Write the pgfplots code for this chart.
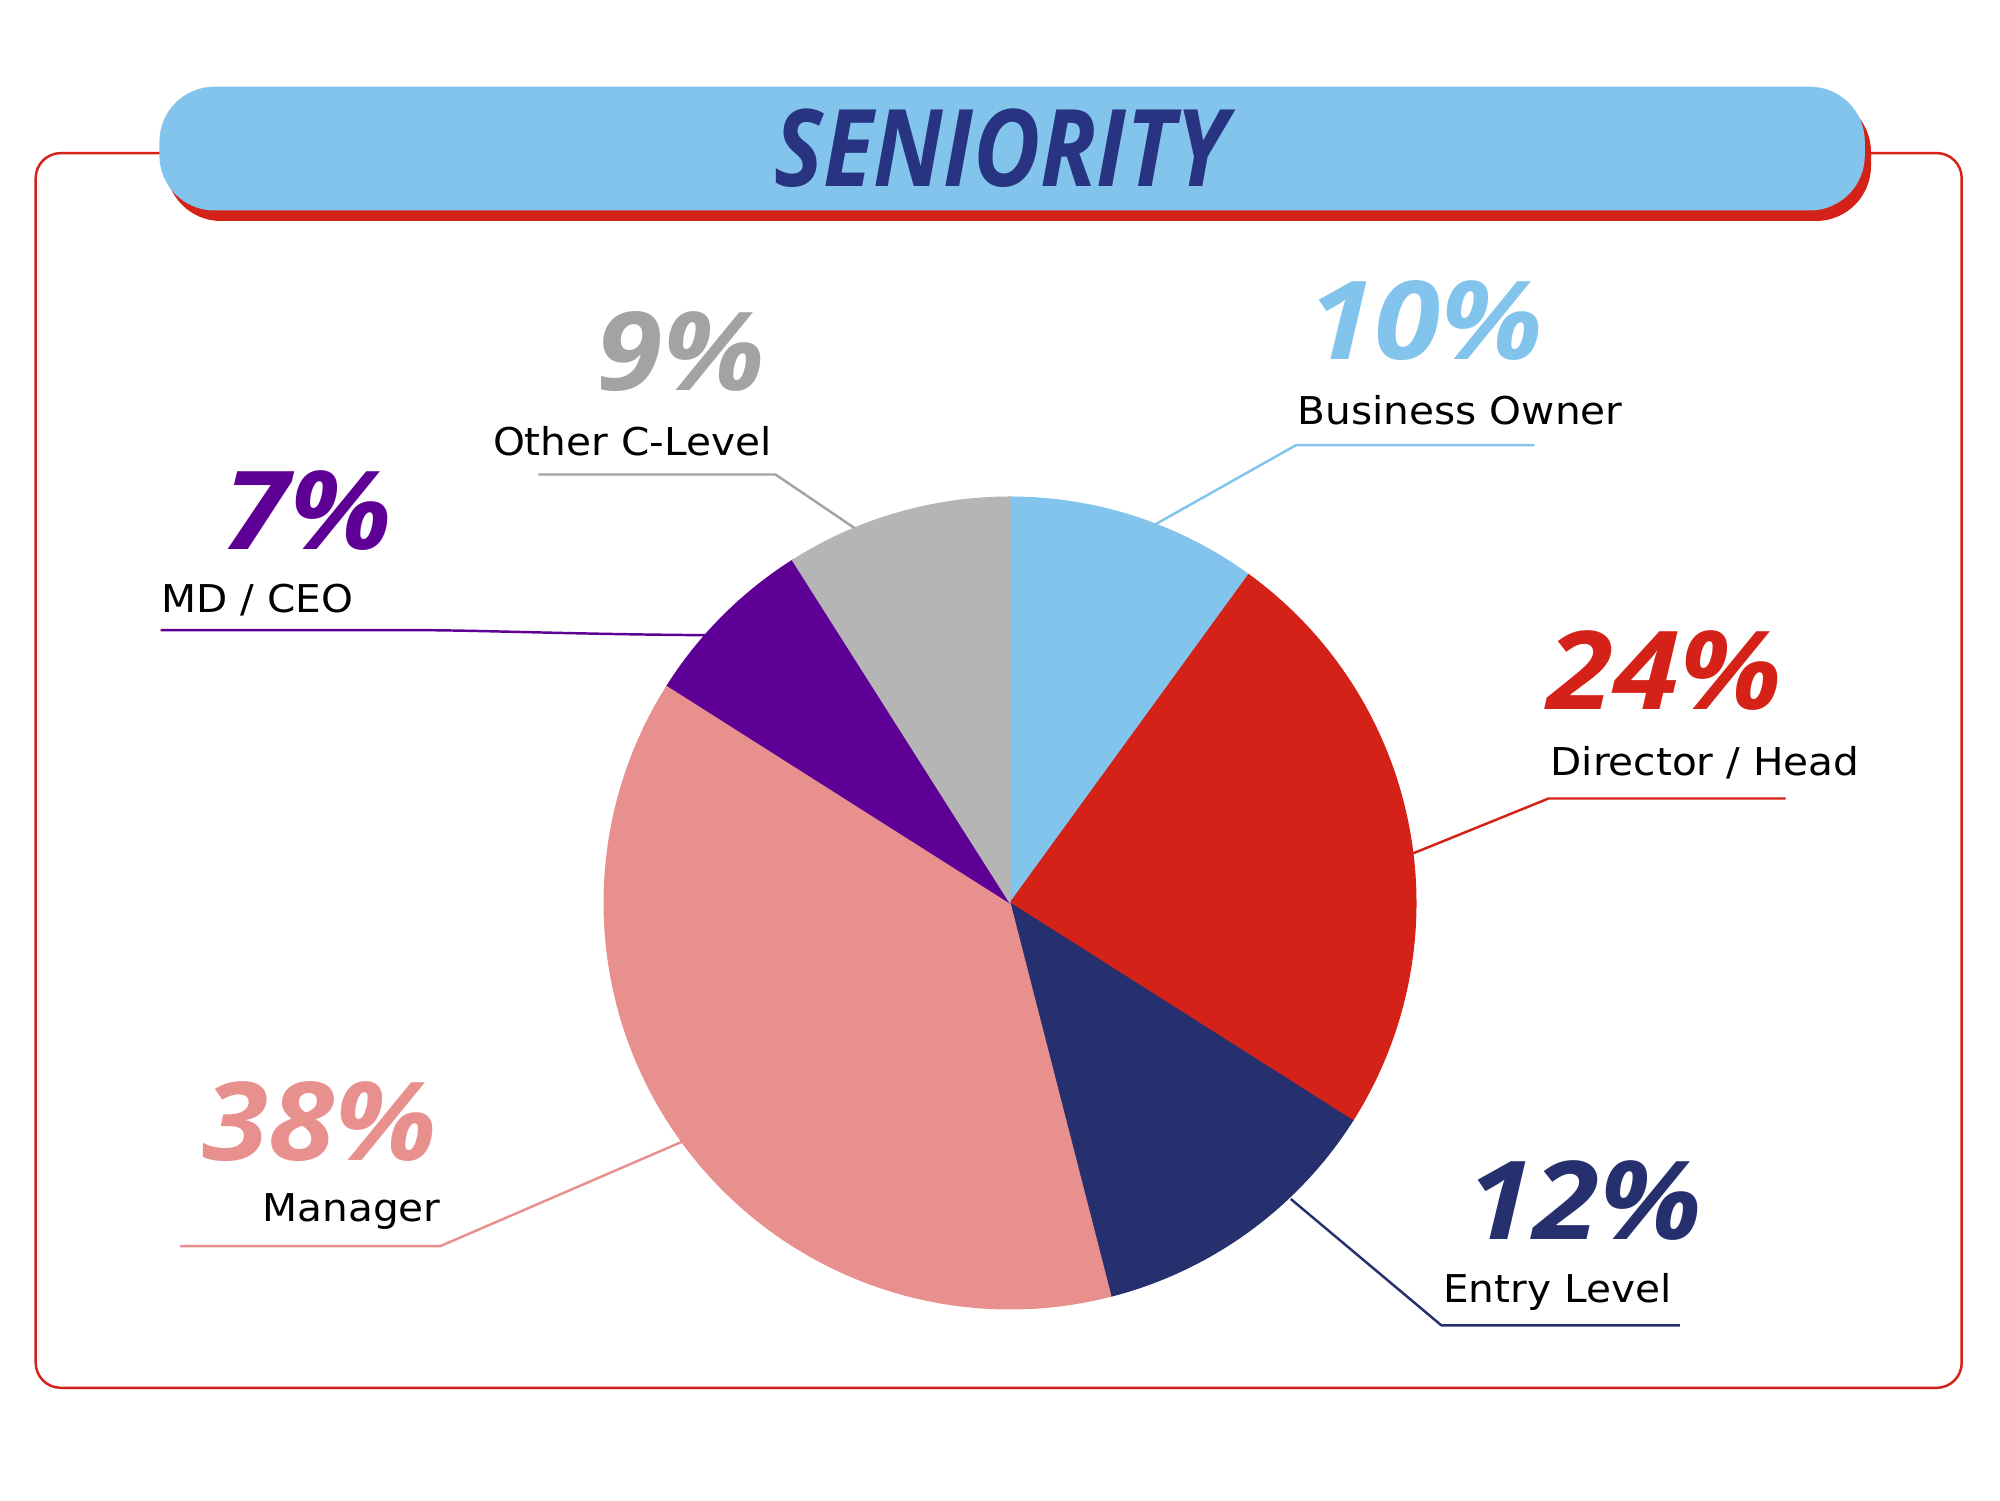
\documentclass[border=0pt]{standalone}
\usepackage{pgfplots}
\pgfplotsset{compat=1.18}
\usepackage{fontspec}
\setmainfont{DejaVu Sans}
\newfontfamily\pctfont{Open Sans}
\definecolor{cBlue}{HTML}{82C4EC}
\definecolor{cRed}{HTML}{D52218}
\definecolor{cNavy}{HTML}{27306F}
\definecolor{cPink}{HTML}{E8908E}
\definecolor{cPurple}{HTML}{5E0096}
\definecolor{cGray}{HTML}{B5B5B5}
\definecolor{cGrayT}{HTML}{A3A3A3}
\definecolor{cTitle}{HTML}{283381}
% data (percent)
\def\vBus{10}\def\vDir{24}\def\vEnt{12}\def\vMan{38}\def\vMD{7}\def\vOth{9}
\pgfmathsetmacro{\sA}{90}
\pgfmathsetmacro{\sB}{\sA-3.6*\vBus}
\pgfmathsetmacro{\sC}{\sB-3.6*\vDir}
\pgfmathsetmacro{\sD}{\sC-3.6*\vEnt}
\pgfmathsetmacro{\sE}{\sD-3.6*\vMan}
\pgfmathsetmacro{\sF}{\sE-3.6*\vMD}
\pgfmathsetmacro{\sG}{\sF-3.6*\vOth}
\def\cx{1010}\def\cy{597}\def\rr{406}
\newcommand{\slice}[3]{%
  \addplot[draw=#3, line width=0.3pt, fill=#3, domain=#1:#2, samples=80, variable=\t]
    ({\cx+\rr*cos(\t)},{\cy+\rr*sin(\t)}) -- (axis cs:\cx,\cy) -- cycle;}
\newcommand{\pct}[1]{\scalebox{1.1}[1]{\pctfont\fontsize{31}{31}\selectfont\bfseries\itshape #1}}
\newcommand{\lab}[1]{\scalebox{1.06}[1]{\fontsize{10.9}{11}\selectfont #1}}
\begin{document}
\begin{tikzpicture}
\begin{axis}[width=20cm,height=15cm,scale only axis,xmin=0,xmax=2000,ymin=0,ymax=1500,
  hide axis,clip=false]
\path (axis cs:0,0) rectangle (axis cs:2000,1500);
% frame
\draw[cRed, line width=0.7pt, rounded corners=2.5mm] (axis cs:35.7,112.2) rectangle (axis cs:1961.7,1346.9);
% banner
\fill[cRed, rounded corners=5.5mm] (axis cs:166,1279) rectangle (axis cs:1871,1403);
\fill[cBlue, rounded corners=5.5mm] (axis cs:159.4,1289.5) rectangle (axis cs:1864.8,1413.3);
\node[text=cTitle, anchor=base] at (axis cs:1001,1313) {\scalebox{0.86}[1]{\pctfont\fontsize{30.5}{31}\selectfont\bfseries\itshape SENIORITY}};
% pie
\slice{\sB}{\sA}{cBlue}
\slice{\sC}{\sB}{cRed}
\slice{\sD}{\sC}{cNavy}
\slice{\sE}{\sD}{cPink}
\slice{\sF}{\sE}{cPurple}
\slice{\sG}{\sF}{cGray}
% leader lines
\draw[cBlue, line width=0.7pt] (axis cs:1155.6,975.8) -- (axis cs:1295.9,1054.8) -- (axis cs:1534.4,1054.8);
\draw[cRed, line width=0.7pt] (axis cs:1413.3,646.7) -- (axis cs:1548.5,701.5) -- (axis cs:1785.7,701.5);
\draw[cNavy, line width=0.7pt] (axis cs:1290.8,301) -- (axis cs:1441.3,174.7) -- (axis cs:1679.8,174.7);
\draw[cPink, line width=0.7pt] (axis cs:682.4,358.4) -- (axis cs:440.1,253.8) -- (axis cs:179.8,253.8);
\draw[cPurple, line width=0.7pt] (axis cs:705.4,864.8) .. controls (axis cs:560,866) and (axis cs:480,869.9) .. (axis cs:408.2,869.9) -- (axis cs:160.7,869.9);
\draw[cGrayT, line width=0.7pt] (axis cs:854.6,971.9) -- (axis cs:775.5,1025.5) -- (axis cs:538.3,1025.5);
% labels
\node[anchor=base west, inner sep=0pt, text=cBlue] at (axis cs:1307.4,1140.3) {\pct{10\%}};
\node[anchor=base west, inner sep=0pt] at (axis cs:1297.2,1075.3) {\lab{Business Owner}};
\node[anchor=base west, inner sep=0pt, text=cRed] at (axis cs:1547.2,790.8) {\pct{24\%}};
\node[anchor=base west, inner sep=0pt] at (axis cs:1549.8,724.5) {\lab{Director / Head}};
\node[anchor=base west, inner sep=0pt, text=cNavy] at (axis cs:1466.8,260.2) {\pct{12\%}};
\node[anchor=base west, inner sep=0pt] at (axis cs:1442.6,197.7) {\lab{Entry Level}};
\node[anchor=base west, inner sep=0pt, text=cPink] at (axis cs:201.5,339.3) {\pct{38\%}};
\node[anchor=base east, inner sep=0pt] at (axis cs:441.3,278.1) {\lab{Manager}};
\node[anchor=base west, inner sep=0pt, text=cPurple] at (axis cs:223.2,950.3) {\pct{7\%}};
\node[anchor=base west, inner sep=0pt] at (axis cs:160.7,887.8) {\lab{MD / CEO}};
\node[anchor=base east, inner sep=0pt, text=cGrayT] at (axis cs:765.3,1109.7) {\pct{9\%}};
\node[anchor=base west, inner sep=0pt] at (axis cs:492.3,1044.6) {\lab{Other C-Level}};
\end{axis}
\end{tikzpicture}
\end{document}
